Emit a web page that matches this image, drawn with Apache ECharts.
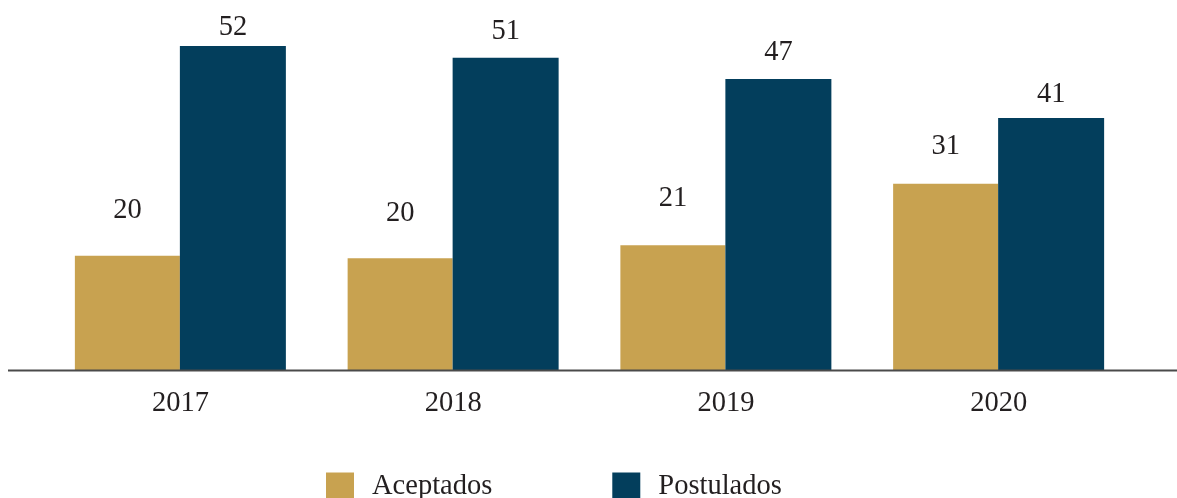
<!DOCTYPE html>
<html>
<head>
<meta charset="utf-8">
<script src="https://cdn.jsdelivr.net/npm/echarts@6/dist/echarts.min.js"></script>
<style>
  html, body { margin: 0; padding: 0; background: #fff; }
  #chart { width: 1177px; height: 498px; }
</style>
</head>
<body>
<div id="chart"></div>
<script>
// años
var years = ['2017', '2018', '2019', '2020'];
// alturas de barra
var aceptados = [18.4, 18.0, 20.1, 30.0];
var postulados = [52.2, 50.3, 46.9, 40.6];
// etiquetas tal como aparecen
var aceptadosLabels = ['20', '20', '21', '31'];
var postuladosLabels = ['52', '51', '47', '41'];

var FONT = '"Liberation Serif", "DejaVu Serif", serif';
var TEXT = '#231f20';
var GOLD = '#c8a250';
var NAVY = '#033e5c';
var FS = 28.5;

// separación etiqueta-barra (px)
var acepGap = [31, 30, 32, 23];
var postGap = [4, 12, 12, 9];

function buildData(values, labels, gaps) {
  return values.map(function(v, i) {
    return {
      value: v,
      label: { formatter: labels[i], distance: gaps[i] }
    };
  });
}

var myChart = echarts.init(document.getElementById('chart'), null, { renderer: 'canvas' });

var option = {
  backgroundColor: '#fff',
  animation: false,
  grid: { left: 44, right: 42, top: 10, bottom: 128 },
  legend: {
    left: 321,
    top: 467,
    itemWidth: 28,
    itemHeight: 28,
    itemGap: 120,
    icon: 'rect',
    textStyle: { fontFamily: FONT, fontSize: FS, color: TEXT, padding: [2, 0, 0, 13] },
    data: ['Aceptados', 'Postulados']
  },
  xAxis: {
    type: 'category',
    data: years,
    axisLine: { show: false },
    axisTick: { show: false },
    axisLabel: { fontFamily: FONT, fontSize: FS, color: TEXT, margin: 19 }
  },
  yAxis: {
    type: 'value',
    min: 0,
    max: 58,
    show: false,
    splitLine: { show: false }
  },
  series: [
    {
      name: 'Aceptados',
      type: 'bar',
      barWidth: 105,
      barGap: '0%',
      itemStyle: { color: GOLD },
      label: { show: true, position: 'top', fontFamily: FONT, fontSize: FS, color: TEXT },
      data: buildData(aceptados, aceptadosLabels, acepGap)
    },
    {
      name: 'Postulados',
      type: 'bar',
      barWidth: 106,
      barGap: '0%',
      itemStyle: { color: NAVY },
      label: { show: true, position: 'top', fontFamily: FONT, fontSize: FS, color: TEXT },
      data: buildData(postulados, postuladosLabels, postGap)
    }
  ]
};

myChart.setOption(option);

// línea base que cruza todo el ancho
var baseY = myChart.convertToPixel({ yAxisIndex: 0 }, 0);
myChart.setOption({
  graphic: [{
    type: 'line',
    shape: { x1: 8, y1: baseY + 0.5, x2: 1177, y2: baseY + 0.5 },
    style: { stroke: '#4a4a4a', lineWidth: 2 },
    z: 10
  }]
});
</script>
</body>
</html>
